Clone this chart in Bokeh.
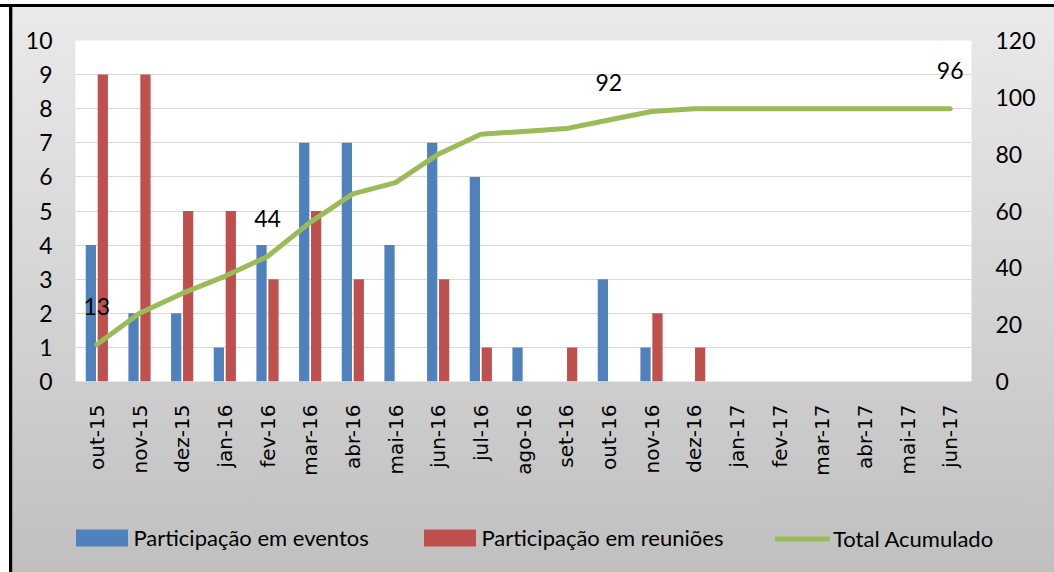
import numpy as np
from bokeh.plotting import figure
from bokeh.layouts import column
from bokeh.core.properties import value
from bokeh.models import (ColumnDataSource, LinearAxis, Range1d, FactorRange, Legend,
                          LegendItem, LabelSet, FixedTicker)
from bokeh.transform import dodge
from bokeh.embed import file_html
from bokeh.resources import INLINE

months = ["out-15", "nov-15", "dez-15", "jan-16", "fev-16", "mar-16", "abr-16", "mai-16",
          "jun-16", "jul-16", "ago-16", "set-16", "out-16", "nov-16", "dez-16", "jan-17",
          "fev-17", "mar-17", "abr-17", "mai-17", "jun-17"]
eventos = [4, 2, 2, 1, 4, 7, 7, 4, 7, 6, 1, 0, 3, 1, 0, 0, 0, 0, 0, 0, 0]
reunioes = [9, 9, 5, 5, 3, 5, 3, 0, 3, 1, 0, 1, 0, 2, 1, 0, 0, 0, 0, 0, 0]
total = [13, 24, 31, 37, 44, 56, 66, 70, 80, 87, 88, 89, 92, 95, 96, 96, 96, 96, 96, 96, 96]
label_months = ["out-15", "fev-16", "out-16", "jun-17"]
label_values = [13, 44, 92, 96]
left_ticks = [0, 1, 2, 3, 4, 5, 6, 7, 8, 9, 10]
right_ticks = [0, 20, 40, 60, 80, 100, 120]
series_names = ["Participação em eventos", "Participação em reuniões", "Total Acumulado"]

BLUE = "#4F81BD"
RED = "#C0504D"
GREEN = "#9BBB59"
FONT = "Lato"

src = ColumnDataSource(dict(m=months, e=eventos, r=reunioes, t=total))
lab = ColumnDataSource(dict(m=label_months, v=label_values, s=[str(v) for v in label_values]))

xr = FactorRange(*months, range_padding=0)

# ---------------- main chart ----------------
p = figure(width=1054, height=480, x_range=xr,
           y_range=Range1d(0, 10), output_backend="svg", toolbar_location=None,
           min_border_left=75, min_border_right=83, min_border_top=40, min_border_bottom=99)
p.extra_y_ranges = {"right": Range1d(0, 120)}
p.border_fill_alpha = 0
p.background_fill_color = "white"
p.outline_line_color = None

def draw_series(fig, visible=True):
    a = fig.vbar(x=dodge("m", -0.14, range=xr), top="e", width=0.24, source=src,
                 color=BLUE, line_color=None, visible=visible)
    b = fig.vbar(x=dodge("m", 0.14, range=xr), top="r", width=0.24, source=src,
                 color=RED, line_color=None, visible=visible)
    c = fig.line(x="m", y="t", source=src, y_range_name="right", line_width=5,
                 line_color=GREEN, line_join="round", line_cap="round", visible=visible)
    return a, b, c

draw_series(p)

labels = LabelSet(x="m", y="v", text="s", source=lab, y_range_name="right",
                  y_offset=38, text_align="center", text_baseline="middle",
                  text_font=value(FONT), text_font_size="23px", text_color="black")
p.add_layout(labels)

p.yaxis.ticker = FixedTicker(ticks=left_ticks)
ra = LinearAxis(y_range_name="right", ticker=FixedTicker(ticks=right_ticks))
p.add_layout(ra, "right")
for ax, so in [(p.yaxis[0], 17), (ra, 18)]:
    ax.axis_line_color = None
    ax.major_tick_line_color = None
    ax.minor_tick_line_color = None
    ax.major_label_text_font = FONT
    ax.major_label_text_font_size = "23px"
    ax.major_label_text_color = "black"
    ax.major_label_standoff = so

xa = p.xaxis[0]
xa.axis_line_color = None
xa.major_tick_line_color = None
xa.minor_tick_line_color = None
xa.major_label_orientation = np.pi / 2
xa.major_label_text_font = "DejaVu Sans"
xa.major_label_text_font_size = "20px"
xa.major_label_text_color = "black"
xa.major_label_standoff = 17

p.xgrid.grid_line_color = None
p.ygrid.grid_line_color = "#d9d9d9"
p.ygrid.grid_line_width = 1

# ---------------- legend strip ----------------
lp = figure(width=1054, height=92, x_range=xr, y_range=Range1d(0, 10),
            x_axis_type=None, y_axis_type=None, output_backend="svg",
            toolbar_location=None, min_border=0)
lp.extra_y_ranges = {"right": Range1d(0, 120)}
try:
    lp.frame_align = False
except Exception:
    pass
lp.border_fill_alpha = 0
lp.background_fill_alpha = 0
lp.outline_line_color = None
lp.grid.grid_line_color = None
g1, g2, g3 = draw_series(lp, visible=False)

legend_specs = [(series_names[0], g1, 68.5, 65, 21, 0, 21),
                (series_names[1], g2, 416.5, 65, 21, 0, 21),
                (series_names[2], g3, 775, 55, 17, 3, 20)]
for name, rend, x, gw, gh, so, vy in legend_specs:
    lg = Legend(items=[LegendItem(label=name, renderers=[rend])], location=(x, vy),
                orientation="horizontal", padding=0, margin=0, spacing=0,
                glyph_width=gw, glyph_height=gh, label_standoff=so, label_height=gh,
                border_line_color=None, background_fill_alpha=0,
                label_text_font=FONT, label_text_font_size="22px",
                label_text_color="black", label_text_baseline="middle")
    lp.add_layout(lg)

layout = column(p, lp, spacing=0)
layout.styles = {"background": ("linear-gradient(#000,#000) 0 4px / 100% 3px no-repeat, "
                                "linear-gradient(#000,#000) 9px 4px / 3px 100% no-repeat, "
                                "linear-gradient(#9a9a9a,#9a9a9a) 12px 7px / 1px 100% no-repeat, "
                                "linear-gradient(#eaeaea, #bfbfbf) 12px 7px / 100% 100% no-repeat, "
                                "#ffffff")}

open("out.html", "w").write(file_html(layout, INLINE))
